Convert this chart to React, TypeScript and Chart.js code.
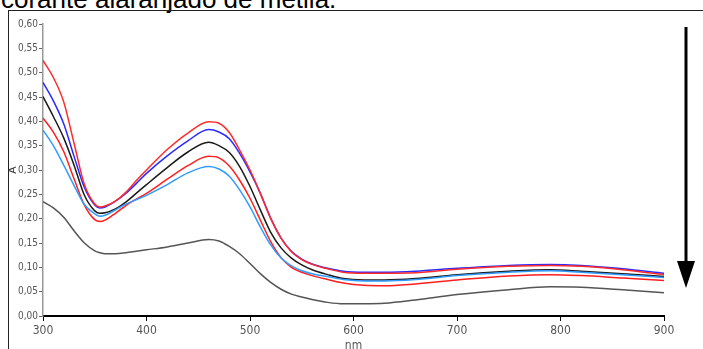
import React, { useEffect, useRef } from "react";
import { Chart, registerables } from "chart.js";

Chart.register(...registerables);

const captionText = "corante alaranjado de metila.";
const xTitle = "nm";
const yTitle = "A";

const wavelengths = [300, 310, 320, 330, 340, 350, 355, 360, 370, 380, 390, 400, 420, 440, 460, 470, 480, 490, 500, 510, 520, 530, 540, 550, 560, 575, 590, 610, 630, 660, 700, 750, 790, 820, 860, 900];

const red1 = [0.525, 0.49, 0.44, 0.355, 0.27, 0.23, 0.224, 0.226, 0.236, 0.254, 0.278, 0.3, 0.342, 0.376, 0.399, 0.396, 0.377, 0.341, 0.3, 0.252, 0.2, 0.16, 0.132, 0.116, 0.106, 0.097, 0.09, 0.088, 0.088, 0.089, 0.096, 0.102, 0.104, 0.102, 0.095, 0.085];
const blue = [0.48, 0.442, 0.395, 0.328, 0.264, 0.228, 0.222, 0.224, 0.236, 0.252, 0.272, 0.293, 0.329, 0.36, 0.383, 0.378, 0.364, 0.334, 0.296, 0.252, 0.201, 0.16, 0.133, 0.117, 0.107, 0.098, 0.092, 0.09, 0.09, 0.092, 0.098, 0.104, 0.106, 0.104, 0.097, 0.088];
const black = [0.451, 0.41, 0.366, 0.31, 0.248, 0.216, 0.211, 0.212, 0.22, 0.234, 0.252, 0.27, 0.305, 0.337, 0.357, 0.35, 0.336, 0.307, 0.266, 0.218, 0.172, 0.14, 0.119, 0.105, 0.095, 0.085, 0.077, 0.074, 0.074, 0.077, 0.085, 0.092, 0.095, 0.092, 0.087, 0.081];
const lightBlue = [0.382, 0.35, 0.31, 0.268, 0.229, 0.21, 0.205, 0.207, 0.218, 0.23, 0.239, 0.248, 0.27, 0.294, 0.307, 0.302, 0.287, 0.259, 0.224, 0.183, 0.146, 0.119, 0.103, 0.093, 0.087, 0.081, 0.075, 0.072, 0.072, 0.075, 0.083, 0.09, 0.093, 0.09, 0.085, 0.079];
const red2 = [0.407, 0.378, 0.338, 0.282, 0.228, 0.198, 0.194, 0.197, 0.211, 0.227, 0.24, 0.252, 0.281, 0.309, 0.328, 0.325, 0.308, 0.279, 0.242, 0.197, 0.153, 0.12, 0.1, 0.09, 0.083, 0.075, 0.068, 0.063, 0.062, 0.066, 0.074, 0.082, 0.085, 0.083, 0.078, 0.073];
const gray = [0.235, 0.222, 0.203, 0.175, 0.15, 0.134, 0.13, 0.128, 0.128, 0.13, 0.133, 0.136, 0.142, 0.15, 0.157, 0.154, 0.143, 0.128, 0.108, 0.087, 0.069, 0.055, 0.045, 0.039, 0.034, 0.028, 0.025, 0.025, 0.026, 0.033, 0.044, 0.054, 0.06, 0.059, 0.054, 0.048];

const series = [
  { name: "s1", values: red1, color: "#ff2a2a" },
  { name: "s2", values: blue, color: "#2a2aff" },
  { name: "s4", values: lightBlue, color: "#2f9bff" },
  { name: "s3", values: black, color: "#1a1a1a" },
  { name: "s5", values: red2, color: "#ff1f1f" },
  { name: "s6", values: gray, color: "#555555" },
];

const arrowPlugin = {
  id: "downArrow",
  afterDraw(chart: any) {
    const { ctx, chartArea } = chart;
    const x = chartArea.right + 22;
    const top = chartArea.top + 3;
    const tip = chartArea.bottom - 28;
    const headH = 27;
    const headW = 9;
    ctx.save();
    ctx.strokeStyle = "#000";
    ctx.fillStyle = "#000";
    ctx.lineWidth = 3;
    ctx.beginPath();
    ctx.moveTo(x, top);
    ctx.lineTo(x, tip - headH + 2);
    ctx.stroke();
    ctx.beginPath();
    ctx.moveTo(x - headW, tip - headH);
    ctx.lineTo(x + headW, tip - headH);
    ctx.lineTo(x, tip);
    ctx.closePath();
    ctx.fill();
    ctx.restore();
  },
};

const narrow = "'Liberation Sans Narrow', 'Arial Narrow', 'DejaVu Sans Condensed', sans-serif";

export default function App() {
  const canvasRef = useRef<HTMLCanvasElement | null>(null);

  useEffect(() => {
    const canvas = canvasRef.current;
    if (!canvas) return;
    const chart = new Chart(canvas, {
      type: "line",
      data: {
        datasets: series.map((s) => ({
          label: s.name,
          data: wavelengths.map((w, i) => ({ x: w, y: s.values[i] })),
          borderColor: s.color,
          backgroundColor: s.color,
          borderWidth: 1.5,
          pointRadius: 0,
          fill: false,
          cubicInterpolationMode: "monotone" as const,
        })),
      },
      plugins: [arrowPlugin],
      options: {
        animation: false,
        responsive: false,
        devicePixelRatio: 1,
        layout: { padding: { top: 24, right: 39, left: 0, bottom: 0 } },
        plugins: {
          legend: { display: false },
          tooltip: { enabled: false },
        },
        scales: {
          x: {
            type: "linear",
            min: 300,
            max: 900,
            afterFit: (scale: any) => {
              scale.height = 33;
            },
            ticks: {
              stepSize: 100,
              color: "#555",
              padding: 3,
              maxRotation: 0,
              font: { family: narrow, size: 12 },
            },
            grid: {
              display: true,
              drawOnChartArea: false,
              drawTicks: true,
              tickLength: 5,
              color: "#000",
            },
            border: { display: true, color: "#000", width: 2 },
            title: {
              display: true,
              text: xTitle,
              color: "#555",
              padding: 0,
              font: { family: narrow, size: 12, lineHeight: 0.5 },
            },
          },
          y: {
            min: 0,
            max: 0.6,
            afterFit: (scale: any) => {
              scale.width = 43;
            },
            ticks: {
              stepSize: 0.05,
              color: "#555",
              padding: 1,
              font: { family: narrow, size: 10 },
              callback: (v: any) => Number(v).toFixed(2).replace(".", ","),
            },
            grid: {
              display: true,
              drawOnChartArea: false,
              drawTicks: true,
              tickLength: 4,
              color: "#666",
            },
            border: { display: true, color: "#999", width: 1.5 },
            title: {
              display: true,
              text: yTitle,
              color: "#333",
              padding: { top: 6, bottom: 0 },
              font: { family: "'Liberation Sans', Arial, sans-serif", size: 11 },
            },
          },
        },
      },
    });
    return () => chart.destroy();
  }, []);

  return (
    <div
      style={{
        position: "fixed",
        left: 0,
        top: 0,
        width: 703,
        height: 349,
        overflow: "hidden",
        background: "#fff",
      }}
    >
      <div
        style={{
          position: "absolute",
          left: 1,
          top: -14.5,
          fontFamily: "'Liberation Sans', Arial, sans-serif",
          fontSize: 26,
          lineHeight: "26px",
          whiteSpace: "nowrap",
          color: "#000",
        }}
      >
        {captionText}
      </div>
      <div
        style={{
          position: "absolute",
          left: 8,
          top: 10,
          width: 800,
          height: 400,
          border: "1px solid #222",
          boxSizing: "border-box",
        }}
      />
      <canvas
        ref={canvasRef}
        width={703}
        height={349}
        style={{ position: "absolute", left: 0, top: 0, width: 703, height: 349 }}
      />
    </div>
  );
}
